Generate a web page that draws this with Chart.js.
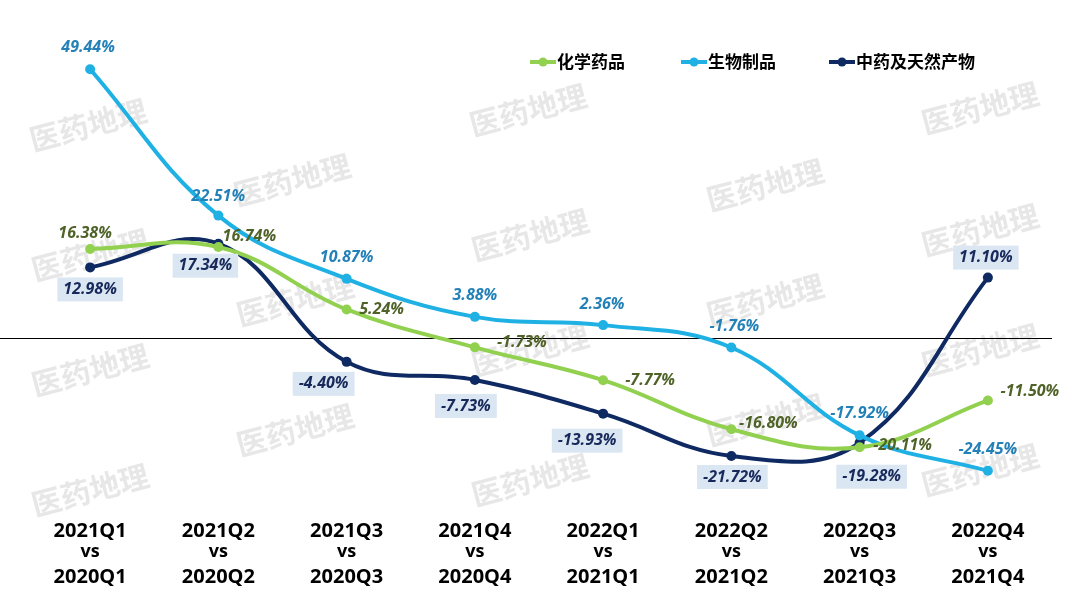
<!DOCTYPE html>
<html>
<head>
<meta charset="utf-8">
<script src="https://cdn.jsdelivr.net/npm/chart.js@4"></script>
<style>
  html, body { margin: 0; padding: 0; background: #fff; }
  #wrap { width: 1080px; height: 608px; position: relative; }
</style>
</head>
<body>
<div id="wrap"><canvas id="growthChart"></canvas></div>
<script>
// quarter-on-quarter (YoY) comparisons
const quarters = [
  ["2021Q1", "2020Q1"], ["2021Q2", "2020Q2"], ["2021Q3", "2020Q3"], ["2021Q4", "2020Q4"],
  ["2022Q1", "2021Q1"], ["2022Q2", "2021Q2"], ["2022Q3", "2021Q3"], ["2022Q4", "2021Q4"],
];
const seriesNames = ["化学药品", "生物制品", "中药及天然产物"];
const chemValues = [16.38, 16.74, 5.24, -1.73, -7.77, -16.80, -20.11, -11.50];
const bioValues = [49.44, 22.51, 10.87, 3.88, 2.36, -1.76, -17.92, -24.45];
const tcmValues = [12.98, 17.34, -4.40, -7.73, -13.93, -21.72, -19.28, 11.10];

// label placement relative to each point (px), styling only
const chemLabelOffsets = [[-5, -15], [31, -11], [35, 0], [47, -5], [47, 0], [37, -6], [43, -2], [42, -9]];
const bioLabelOffsets = [[-2, -22], [0, -19], [0, -21], [0, -21], [-1, -21], [3, -21], [0, -22], [0, -21]];
const tcmLabelOffsets = [[0, 22], [-13, 22], [-23, 22], [-9, 26], [-16, 27], [1, 21], [12, 34], [-2, -20]];

const GREEN = "#92d050", BLUE = "#1fb0e4", NAVY = "#0f2a62";

const watermarkSpots = [
  [88, 125], [292, 180], [528, 110], [765, 185], [980, 108],
  [90, 255], [295, 300], [530, 235], [765, 300], [980, 230],
  [90, 370], [295, 430], [530, 350], [765, 420], [980, 350],
  [90, 490], [530, 480], [980, 470],
];

const labelStyles = [
  { color: "#4f6228", box: null },
  { color: "#2381b8", box: null },
  { color: "#17295a", box: "#dbe6f3" },
];
const labelOffsets = [chemLabelOffsets, bioLabelOffsets, tcmLabelOffsets];

const watermarkPlugin = {
  id: "watermark",
  beforeDatasetsDraw(chart) {
    const ctx = chart.ctx;
    ctx.save();
    ctx.font = "bold 30px 'Noto Sans CJK SC'";
    ctx.fillStyle = "rgba(175,175,175,0.3)";
    ctx.textAlign = "center";
    ctx.textBaseline = "middle";
    for (const [x, y] of watermarkSpots) {
      ctx.save();
      ctx.translate(x, y);
      ctx.rotate(-0.26);
      ctx.fillText("医药地理", 0, 0);
      ctx.restore();
    }
    ctx.restore();
  },
};

const zeroLinePlugin = {
  id: "zeroLine",
  beforeDatasetsDraw(chart) {
    const ctx = chart.ctx;
    const y = Math.round(chart.scales.y.getPixelForValue(0)) + 0.5;
    ctx.save();
    ctx.strokeStyle = "#000";
    ctx.lineWidth = 1;
    ctx.beginPath();
    ctx.moveTo(0, y);
    ctx.lineTo(chart.chartArea.right, y);
    ctx.stroke();
    ctx.restore();
  },
};

const pointLabelPlugin = {
  id: "pointLabels",
  afterDatasetsDraw(chart) {
    const ctx = chart.ctx;
    ctx.save();
    ctx.font = "italic bold 16px 'Open Sans'";
    ctx.textAlign = "center";
    ctx.textBaseline = "middle";
    chart.data.datasets.forEach((ds, di) => {
      const meta = chart.getDatasetMeta(di);
      const style = labelStyles[di];
      meta.data.forEach((pt, i) => {
        const [dx, dy] = labelOffsets[di][i];
        const text = ds.data[i].toFixed(2) + "%";
        const x = pt.x + dx, y = pt.y + dy;
        if (style.box) {
          const w = ctx.measureText(text).width + 12;
          ctx.fillStyle = style.box;
          ctx.fillRect(x - w / 2, y - 12, w, 24);
        }
        ctx.fillStyle = style.color;
        ctx.fillText(text, x, y);
      });
    });
    ctx.restore();
  },
};

const axisLabelPlugin = {
  id: "axisLabels",
  afterDraw(chart) {
    const ctx = chart.ctx;
    const xs = chart.scales.x;
    ctx.save();
    ctx.fillStyle = "#000";
    ctx.textAlign = "center";
    ctx.textBaseline = "middle";
    quarters.forEach(([cur, prev], i) => {
      const x = xs.getPixelForValue(i);
      ctx.font = "bold 20px 'Open Sans'";
      ctx.fillText(cur, x, 531);
      ctx.fillText(prev, x, 577);
      ctx.font = "bold 18px 'Open Sans'";
      ctx.fillText("vs", x, 552);
    });
    ctx.restore();
  },
};

const legendPlugin = {
  id: "customLegend",
  afterDraw(chart) {
    const ctx = chart.ctx;
    const items = [[530, GREEN], [681, BLUE], [829, NAVY]];
    ctx.save();
    ctx.font = "bold 17px 'Noto Sans CJK SC'";
    ctx.textBaseline = "middle";
    ctx.textAlign = "left";
    items.forEach(([x, color], i) => {
      const y = 62;
      ctx.strokeStyle = color;
      ctx.lineWidth = 4;
      ctx.beginPath();
      ctx.moveTo(x, y);
      ctx.lineTo(x + 26, y);
      ctx.stroke();
      ctx.fillStyle = color;
      ctx.beginPath();
      ctx.arc(x + 13, y, 4.5, 0, Math.PI * 2);
      ctx.fill();
      ctx.fillStyle = "#000";
      ctx.fillText(seriesNames[i], x + 27, y);
    });
    ctx.restore();
  },
};

const makeDataset = (label, data, color) => ({
  label,
  data,
  borderColor: color,
  backgroundColor: color,
  borderWidth: 4,
  pointRadius: 5,
  pointHoverRadius: 5,
  pointBackgroundColor: color,
  pointBorderWidth: 0,
  tension: 0.4,
  fill: false,
  clip: false,
});

new Chart(document.getElementById("growthChart").getContext("2d"), {
  type: "line",
  data: {
    labels: quarters.map((q) => q[0] + " vs " + q[1]),
    datasets: [
      makeDataset(seriesNames[0], chemValues, GREEN),
      makeDataset(seriesNames[1], bioValues, BLUE),
      makeDataset(seriesNames[2], tcmValues, NAVY),
    ],
  },
  options: {
    responsive: true,
    maintainAspectRatio: false,
    animation: false,
    layout: { padding: { left: 26, right: 28, top: 39, bottom: 107 } },
    plugins: {
      legend: { display: false },
      tooltip: { enabled: false },
    },
    scales: {
      x: { display: false, offset: true },
      y: { display: false, min: -30, max: 55 },
    },
  },
  plugins: [watermarkPlugin, zeroLinePlugin, pointLabelPlugin, axisLabelPlugin, legendPlugin],
});
</script>
</body>
</html>
